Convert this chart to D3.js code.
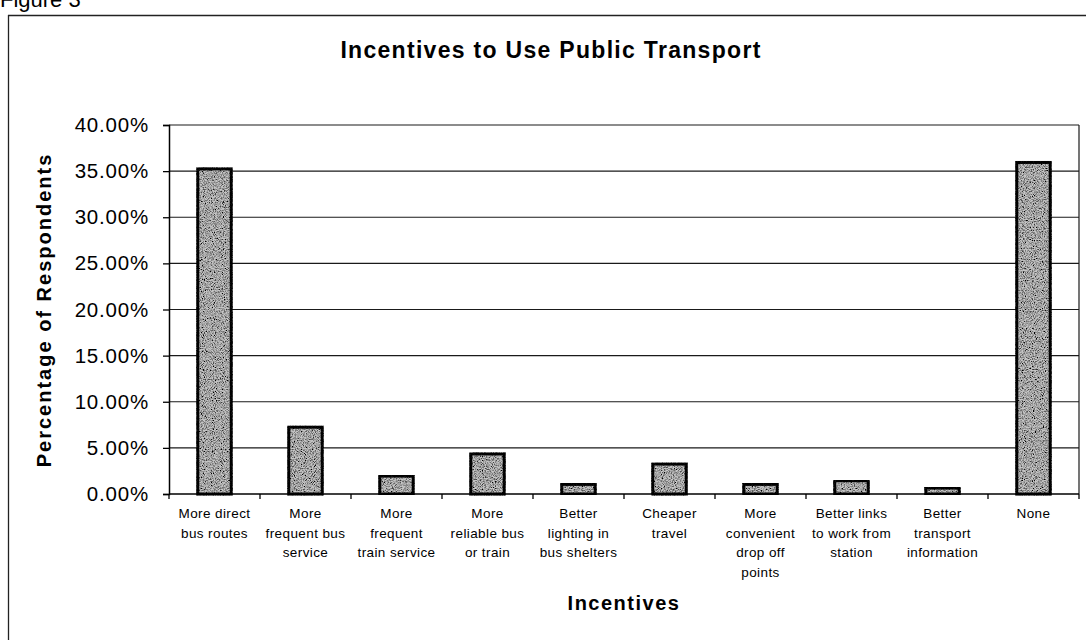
<!DOCTYPE html>
<html>
<head>
<meta charset="utf-8">
<script src="https://cdn.jsdelivr.net/npm/d3@7"></script>
<style>
  body { margin: 0; background: #fff; }
  svg text { font-family: "Liberation Sans", Arial, sans-serif; fill: #000; }
  .ytick text { font-size: 20.5px; letter-spacing: 0.8px; }
  .cat { font-size: 13.5px; letter-spacing: 0.4px; }
  .title { font-size: 23px; font-weight: bold; letter-spacing: 1.3px; }
  .label { font-size: 20px; font-weight: bold; }
</style>
</head>
<body>
<svg id="chart" width="1086" height="640"></svg>
<script>
// data
const categories = [
  "More direct bus routes", "More frequent bus service", "More frequent train service",
  "More reliable bus or train", "Better lighting in bus shelters", "Cheaper travel",
  "More convenient drop off points", "Better links to work from station",
  "Better transport information", "None"
];
const labelLines = [
  ["More direct", "bus routes"],
  ["More", "frequent bus", "service"],
  ["More", "frequent", "train service"],
  ["More", "reliable bus", "or train"],
  ["Better", "lighting in", "bus shelters"],
  ["Cheaper", "travel"],
  ["More", "convenient", "drop off", "points"],
  ["Better links", "to work from", "station"],
  ["Better", "transport", "information"],
  ["None"]
];
const shares = [0.354, 0.074, 0.021, 0.045, 0.012, 0.034, 0.012, 0.016, 0.008, 0.361];
const yTicks = [0, 0.05, 0.10, 0.15, 0.20, 0.25, 0.30, 0.35, 0.40];

const svg = d3.select('#chart');

// speckled print texture for the bars
const defs = svg.append('defs');
const grain = defs.append('filter')
  .attr('id', 'grain')
  .attr('x', '-20%').attr('y', '-5%')
  .attr('width', '140%').attr('height', '110%');
grain.append('feTurbulence')
  .attr('type', 'fractalNoise')
  .attr('baseFrequency', 0.9)
  .attr('numOctaves', 2)
  .attr('seed', 7)
  .attr('result', 'noise');
grain.append('feColorMatrix')
  .attr('in', 'noise')
  .attr('type', 'matrix')
  .attr('values', '0 0 0 0 0  0 0 0 0 0  0 0 0 0 0  2.6 0 0 0 -0.95')
  .attr('result', 'dots');
grain.append('feComposite')
  .attr('in', 'dots').attr('in2', 'SourceGraphic')
  .attr('operator', 'in').attr('result', 'speck');
const merge = grain.append('feMerge');
merge.append('feMergeNode').attr('in', 'SourceGraphic');
merge.append('feMergeNode').attr('in', 'speck');

// outer frame of the scanned figure (caption is clipped at the top, as in the scan)
svg.append('text')
  .attr('x', 0).attr('y', 7)
  .style('font-size', '22px')
  .text('Figure 3');

svg.append('line')
  .attr('x1', 8).attr('y1', 15.5).attr('x2', 1086).attr('y2', 15.5)
  .attr('stroke', '#222').attr('stroke-width', 1.3);
svg.append('line')
  .attr('x1', 8.5).attr('y1', 15).attr('x2', 8.5).attr('y2', 640)
  .attr('stroke', '#222').attr('stroke-width', 1.3);

const plotLeft = 169, plotRight = 1079, plotTop = 125, plotBottom = 494;
const width = plotRight - plotLeft;
const height = plotBottom - plotTop;

const chart = svg.append('g')
  .attr('transform', `translate(${plotLeft}, ${plotTop})`);

const xScale = d3.scaleBand()
  .domain(categories)
  .range([0, width])
  .paddingInner(0.6)
  .paddingOuter(0.3);

const yScale = d3.scaleLinear()
  .domain([0, 0.4])
  .range([height, 0]);

// horizontal grid lines
chart.append('g')
  .selectAll('line')
  .data(yTicks.filter(d => d > 0))
  .join('line')
  .attr('x1', 0).attr('x2', width)
  .attr('y1', d => yScale(d)).attr('y2', d => yScale(d))
  .attr('stroke', '#1a1a1a')
  .attr('stroke-width', 1.2);

// right border of plot area
chart.append('line')
  .attr('x1', width).attr('x2', width)
  .attr('y1', 0).attr('y2', height)
  .attr('stroke', '#1a1a1a').attr('stroke-width', 1.2);

// y axis
const yAxis = chart.append('g')
  .attr('class', 'ytick')
  .call(d3.axisLeft(yScale)
    .tickValues(yTicks)
    .tickFormat(d3.format('.2%'))
    .tickSize(6)
    .tickPadding(14));
yAxis.attr('font-family', null).attr('font-size', null);
yAxis.select('.domain').attr('stroke', '#000').attr('stroke-width', 1.5);
yAxis.selectAll('.tick line').attr('stroke', '#000').attr('stroke-width', 1.3);

// bars
const bw = xScale.bandwidth();
chart.append('g')
  .selectAll('rect')
  .data(categories)
  .join('rect')
  .attr('x', d => xScale(d) + 1.5)
  .attr('y', (d, i) => yScale(shares[i]) + 1.5)
  .attr('width', bw - 3)
  .attr('height', (d, i) => Math.max(0, height - yScale(shares[i]) - 1.5))
  .attr('fill', '#c6c6c6')
  .attr('stroke', '#111')
  .attr('stroke-width', 3)
  .attr('filter', 'url(#grain)');

// x axis: baseline and ticks between categories
const gap = xScale.step() - bw;
const bounds = categories.map(d => xScale(d) - gap / 2).concat([width]);
const xAxis = chart.append('g')
  .attr('transform', `translate(0, ${height})`);
xAxis.append('line')
  .attr('x1', 0).attr('x2', width)
  .attr('stroke', '#000').attr('stroke-width', 1.5);
xAxis.selectAll('.xt')
  .data(bounds)
  .join('line')
  .attr('class', 'xt')
  .attr('x1', d => d).attr('x2', d => d)
  .attr('y1', 0).attr('y2', 5)
  .attr('stroke', '#000').attr('stroke-width', 1.3);

// category labels
const labels = xAxis.selectAll('.cat')
  .data(categories)
  .join('text')
  .attr('class', 'cat')
  .attr('text-anchor', 'middle')
  .attr('transform', d => `translate(${xScale(d) + bw / 2}, 24)`);
labels.selectAll('tspan')
  .data((d, i) => labelLines[i])
  .join('tspan')
  .attr('x', 0)
  .attr('y', (d, i) => i * 19.5)
  .text(d => d);

// titles
svg.append('text')
  .attr('class', 'title')
  .attr('x', 551).attr('y', 58)
  .attr('text-anchor', 'middle')
  .text('Incentives to Use Public Transport');

svg.append('text')
  .attr('class', 'label')
  .attr('transform', 'translate(51, 310) rotate(-90)')
  .attr('text-anchor', 'middle')
  .style('letter-spacing', '2px')
  .text('Percentage of Respondents');

svg.append('text')
  .attr('class', 'label')
  .attr('x', 624).attr('y', 610)
  .attr('text-anchor', 'middle')
  .style('letter-spacing', '1.5px')
  .text('Incentives');
</script>
</body>
</html>
